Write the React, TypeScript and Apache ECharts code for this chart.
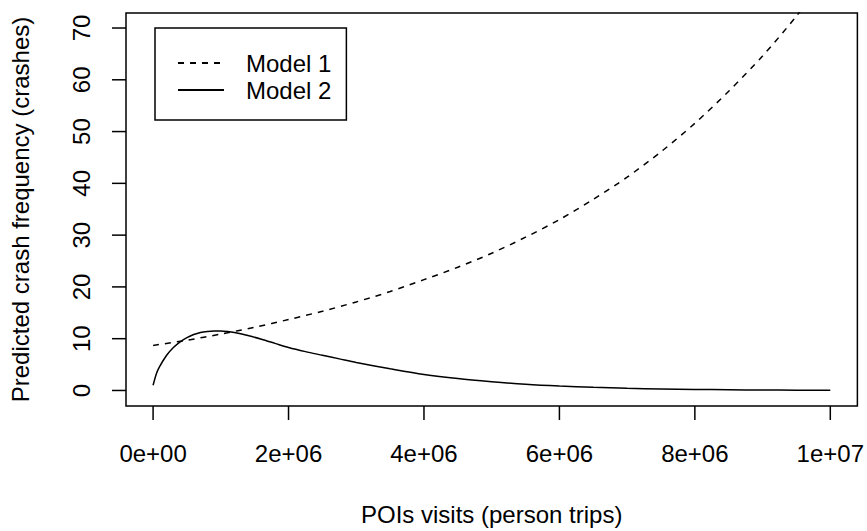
import { useEffect, useRef } from "react";
import * as echarts from "echarts";

// Axis ticks and their printed labels
const xTickValues = [0, 2e6, 4e6, 6e6, 8e6, 1e7];
const xTickLabels = ["0e+00", "2e+06", "4e+06", "6e+06", "8e+06", "1e+07"];
const yTickValues = [0, 10, 20, 30, 40, 50, 60, 70];

const seriesNames = ["Model 1", "Model 2"];

// Model 1: predicted crashes against POI visits
const model1Visits = [
  0, 5e5, 1e6, 1.5e6, 2e6, 2.5e6, 3e6, 3.5e6, 4e6, 4.5e6, 5e6, 5.5e6, 6e6, 6.5e6,
  7e6, 7.5e6, 8e6, 8.5e6, 9e6, 9.5e6, 1e7,
];
const model1Crashes = [
  8.7, 9.7, 10.9, 12.2, 13.7, 15.3, 17.1, 19.1, 21.4, 23.8, 26.5, 29.6, 33.0, 36.9,
  41.2, 46.1, 51.6, 57.8, 64.6, 72.3, 80.8,
];

// Model 2: predicted crashes against POI visits
const model2Visits = [
  0, 5e4, 1e5, 2e5, 3e5, 4e5, 5e5, 6e5, 7e5, 8e5, 9e5, 1e6, 1.1e6, 1.2e6, 1.4e6,
  1.6e6, 1.8e6, 2e6, 2.25e6, 2.5e6, 2.75e6, 3e6, 3.5e6, 4e6, 4.5e6, 5e6, 5.5e6,
  6e6, 6.5e6, 7e6, 7.5e6, 8e6, 8.5e6, 9e6, 9.5e6, 1e7,
];
const model2Crashes = [
  1.0, 3.3, 4.7, 6.8, 8.3, 9.4, 10.2, 10.8, 11.2, 11.4, 11.5, 11.5, 11.4, 11.2, 10.6,
  9.9, 9.1, 8.3, 7.5, 6.8, 6.1, 5.4, 4.2, 3.1, 2.3, 1.7, 1.2, 0.85, 0.6, 0.42, 0.3,
  0.2, 0.14, 0.09, 0.06, 0.04,
];

const FONT = "'Liberation Sans', Arial, Helvetica, sans-serif";

const textBase = {
  color: "#000",
  fontSize: 24,
  fontFamily: FONT,
  lineHeight: 24,
};

// Data ranges of the plot frame (4% padding on each side)
const X_RANGE = [-4e5, 1.04e7];
const Y_RANGE = [-3.0, 72.9];
const TICK_LEN = 14;

export default function App() {
  const ref = useRef<HTMLDivElement>(null);

  useEffect(() => {
    if (!ref.current) return;
    const chart = echarts.init(ref.current, null, { renderer: "svg" });

    const pairs = (xs: number[], ys: number[]) => xs.map((x, i) => [x, ys[i]]);
    const tickStyle = { stroke: "#000", lineWidth: 1.5 };

    chart.setOption({
      animation: false,
      backgroundColor: "#fff",
      grid: {
        left: 126,
        right: 9,
        top: 13,
        bottom: 124,
        show: true,
        borderColor: "#000",
        borderWidth: 1.5,
        backgroundColor: "transparent",
      },
      legend: {
        orient: "vertical",
        left: 155,
        top: 28,
        padding: [23, 15, 18, 22],
        itemGap: 3,
        itemWidth: 46,
        itemHeight: 14,
        borderColor: "#000",
        borderWidth: 1.5,
        borderRadius: 0,
        data: seriesNames,
        // hide the point marker so only the line sample is drawn
        itemStyle: { color: "transparent", borderColor: "transparent", borderWidth: 0, opacity: 0 },
        textStyle: { ...textBase, padding: [0, 0, 0, 17] },
      },
      xAxis: {
        type: "value",
        position: "bottom",
        min: X_RANGE[0],
        max: X_RANGE[1],
        axisLine: { show: false, onZero: false },
        splitLine: { show: false },
        axisTick: { show: false },
        axisLabel: {
          ...textBase,
          customValues: xTickValues,
          margin: 35,
          formatter: (v: number) => {
            const i = xTickValues.indexOf(v);
            return i >= 0 ? xTickLabels[i] : "";
          },
        },
        name: "POIs visits (person trips)",
        nameLocation: "middle",
        nameGap: 96,
        nameTextStyle: { ...textBase },
      },
      yAxis: {
        type: "value",
        position: "left",
        min: Y_RANGE[0],
        max: Y_RANGE[1],
        axisLine: { show: false, onZero: false },
        splitLine: { show: false },
        axisTick: { show: false },
        axisLabel: {
          ...textBase,
          customValues: yTickValues,
          rotate: 90,
          margin: 33,
        },
        name: "Predicted crash frequency (crashes)",
        nameLocation: "middle",
        nameGap: 94,
        nameTextStyle: { ...textBase },
      },
      series: [
        {
          name: seriesNames[0],
          type: "line",
          data: pairs(model1Visits, model1Crashes),
          symbol: "none",
          smooth: 0.3,
          clip: true,
          itemStyle: { color: "#000" },
          lineStyle: { color: "#000", width: 1.5, type: [6, 6] },
        },
        {
          name: seriesNames[1],
          type: "line",
          data: pairs(model2Visits, model2Crashes),
          symbol: "none",
          smooth: 0.3,
          clip: true,
          itemStyle: { color: "#000" },
          lineStyle: { color: "#000", width: 1.5, type: "solid" },
        },
        {
          // outward tick marks under the bottom frame edge
          name: "x ticks",
          type: "custom",
          silent: true,
          clip: false,
          data: xTickValues.map((v) => [v, Y_RANGE[0]]),
          renderItem: (_params: any, api: any) => {
            const p = api.coord([api.value(0), api.value(1)]);
            return {
              type: "line",
              shape: { x1: p[0], y1: p[1], x2: p[0], y2: p[1] + TICK_LEN },
              style: tickStyle,
            };
          },
        },
        {
          // outward tick marks left of the frame
          name: "y ticks",
          type: "custom",
          silent: true,
          clip: false,
          data: yTickValues.map((v) => [X_RANGE[0], v]),
          renderItem: (_params: any, api: any) => {
            const p = api.coord([api.value(0), api.value(1)]);
            return {
              type: "line",
              shape: { x1: p[0], y1: p[1], x2: p[0] - TICK_LEN, y2: p[1] },
              style: tickStyle,
            };
          },
        },
      ],
    });

    return () => chart.dispose();
  }, []);

  return (
    <div
      ref={ref}
      style={{ position: "fixed", left: 0, top: 0, width: 867, height: 531, background: "#fff" }}
    />
  );
}
